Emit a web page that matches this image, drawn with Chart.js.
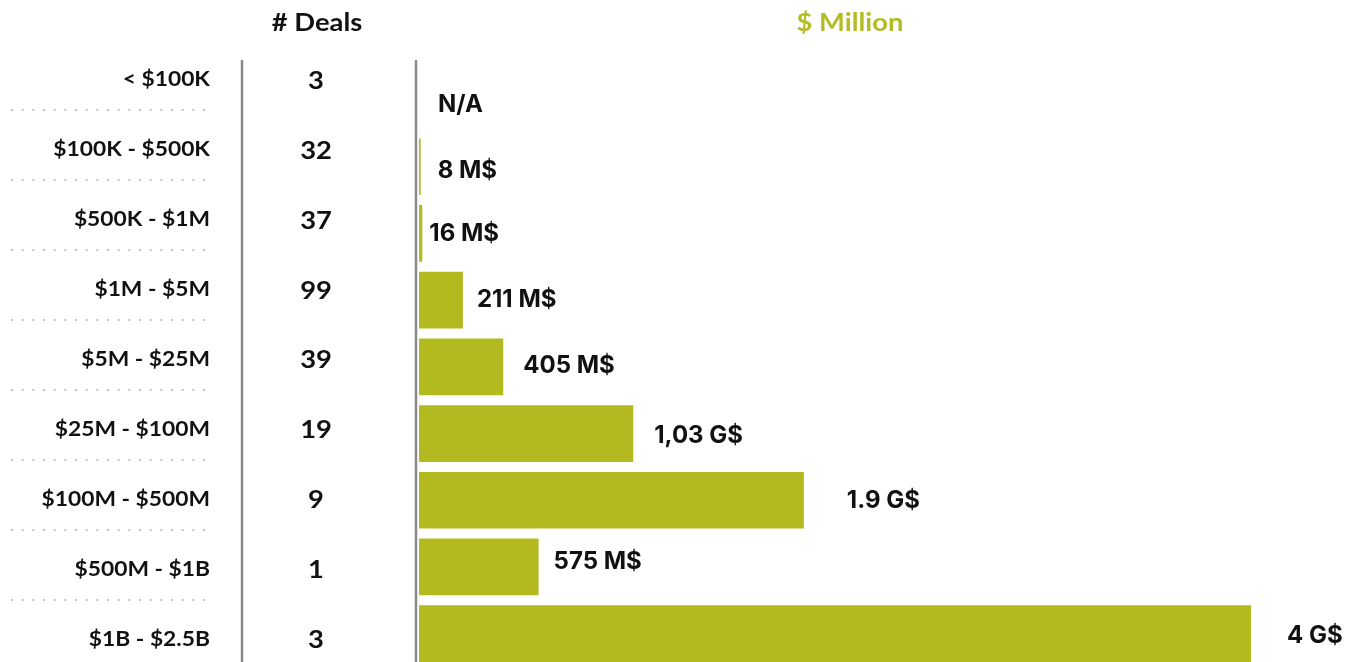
<!DOCTYPE html>
<html>
<head>
<meta charset="utf-8">
<script src="https://cdn.jsdelivr.net/npm/chart.js@4.4.1/dist/chart.umd.min.js"></script>
<style>
  html, body { margin: 0; padding: 0; background: #fff; overflow: hidden; }
  #wrap { position: relative; width: 1358px; height: 667px; }
</style>
</head>
<body>
<div id="wrap"><canvas id="c"></canvas></div>
<script>
// ---- data ----
const categories = ['< $100K', '$100K - $500K', '$500K - $1M', '$1M - $5M', '$5M - $25M',
                    '$25M - $100M', '$100M - $500M', '$500M - $1B', '$1B - $2.5B'];
const dealCounts = [3, 32, 37, 99, 39, 19, 9, 1, 3];
const valuesMillion = [null, 8, 16, 211, 405, 1030, 1850, 575, 4000];
const valueLabels = ['N/A', '8 M$', '16 M$', '211 M$', '405 M$', '1,03 G$', '1.9 G$', '575 M$', '4 G$'];
const headerDeals = '# Deals';
const headerMillion = '$ Million';

// ---- styling ----
const barColor = '#b2ba1f';
const labelDx = [19, 17, 7, 14, 20, 21, 43, 15, 36];
const labelDy = [5, 4.5, 0.5, 0, -1, 2.5, 1, -5, 2.5];
const stretch = 1.14;

function stretchedText(ctx, text, x, y, align) {
  ctx.save();
  ctx.translate(x, y);
  ctx.scale(stretch, 1);
  ctx.textAlign = align;
  ctx.fillText(text, 0, 0);
  ctx.restore();
}

const tablePlugin = {
  id: 'tablePlugin',
  afterDraw(chart) {
    const ctx = chart.ctx;
    const rowY = chart.scales.rowY;
    const area = chart.chartArea;
    ctx.save();
    ctx.textBaseline = 'middle';
    // headers
    ctx.font = 'bold 24px Lato';
    ctx.fillStyle = '#111';
    stretchedText(ctx, headerDeals, 317, 23, 'center');
    ctx.fillStyle = '#b3bc22';
    stretchedText(ctx, headerMillion, 850, 23, 'center');

    // separators
    ctx.strokeStyle = '#8a8a8a';
    ctx.lineWidth = 2.5;
    ctx.beginPath();
    ctx.moveTo(242, 60); ctx.lineTo(242, chart.height);
    ctx.moveTo(416, 60); ctx.lineTo(416, chart.height);
    ctx.stroke();

    // dotted row dividers
    ctx.strokeStyle = '#c4c4c4';
    ctx.lineWidth = 2;
    ctx.setLineDash([2, 8.67]);
    for (let i = 0; i < categories.length - 1; i++) {
      const y = Math.round(rowY.getPixelForValue(i + 0.43));
      ctx.beginPath();
      ctx.moveTo(11, y); ctx.lineTo(210, y);
      ctx.stroke();
    }
    ctx.setLineDash([]);

    // category labels and deal counts
    ctx.fillStyle = '#111';
    categories.forEach((c, i) => {
      const y = rowY.getPixelForValue(i);
      ctx.font = 'bold 20px Lato';
      stretchedText(ctx, c, 210, y, 'right');
      ctx.font = 'bold 24px Lato';
      stretchedText(ctx, String(dealCounts[i]), 316, y + 1, 'center');
    });

    // value labels next to bars
    const meta = chart.getDatasetMeta(0);
    ctx.font = '700 24px Inter';
    ctx.textAlign = 'left';
    ctx.fillStyle = '#111';
    meta.data.forEach((bar, i) => {
      const x0 = (valuesMillion[i] == null) ? area.left : bar.x;
      const yc = chart.scales.y.getPixelForValue(i);
      ctx.fillText(valueLabels[i], x0 + labelDx[i], yc + labelDy[i]);
    });
    ctx.restore();
  }
};

new Chart(document.getElementById('c'), {
  type: 'bar',
  data: {
    labels: categories,
    datasets: [{
      data: valuesMillion,
      backgroundColor: barColor,
      borderWidth: 0,
      barPercentage: 0.85,
      categoryPercentage: 1
    }]
  },
  options: {
    indexAxis: 'y',
    responsive: true,
    maintainAspectRatio: false,
    animation: false,
    layout: { padding: { top: 66.7, left: 419, right: 0, bottom: 0 } },
    plugins: { legend: { display: false }, tooltip: { enabled: false } },
    scales: {
      x: { display: false, min: 0, max: 4514 },
      y: { display: false, offset: true },
      rowY: { type: 'linear', axis: 'y', display: false, reverse: true, offset: false,
              bounds: 'data', min: -0.19, max: 8.394 }
    }
  },
  plugins: [tablePlugin]
});
</script>
</body>
</html>
